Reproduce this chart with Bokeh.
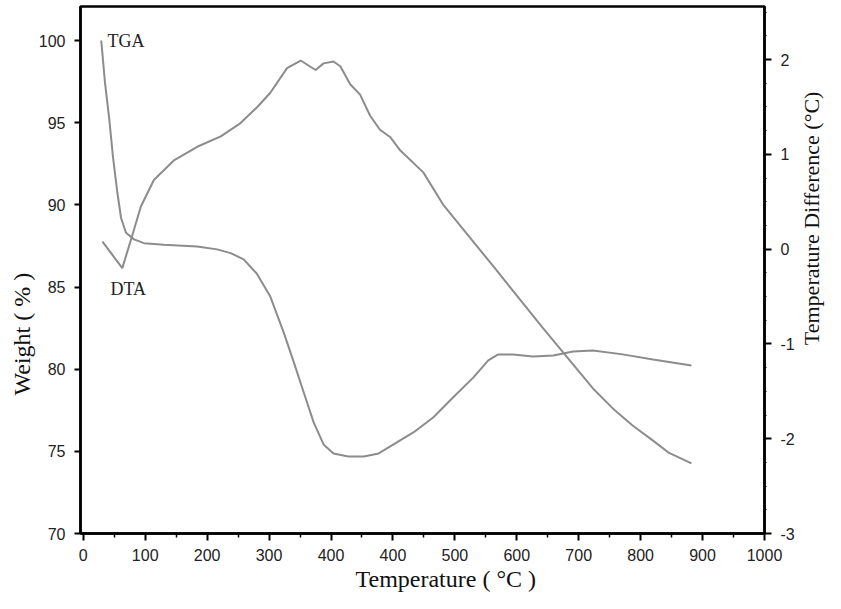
import math
from bokeh.plotting import figure
from bokeh.layouts import row
from bokeh.models import Range1d, LinearAxis, FixedTicker, Label, Title, CustomJSTickFormatter, AllLabels
from bokeh.embed import file_html
from bokeh.resources import INLINE

# x positions are along the printed axis; tick labels as printed (note the repeated "400")
x_tick_pos = [0, 100, 200, 300, 400, 500, 600, 700, 800, 900, 1000, 1100]
x_tick_labels = ["0", "100", "200", "300", "400", "400", "500", "600", "700", "800", "900", "1000"]
weight_ticks = [70, 75, 80, 85, 90, 95, 100]
dta_ticks = [-3, -2, -1, 0, 1, 2]

tga_x = [29, 35, 42, 48, 55, 61, 69, 82, 98, 130, 184, 216, 238, 259, 280, 302, 324, 340, 356, 372,
         388, 404, 428, 453, 477, 501, 533, 565, 597, 630, 654, 670, 694, 726, 759, 791, 823, 871, 920, 982]
tga_w = [100.0, 97.45, 95.2, 92.9, 90.75, 89.2, 88.3, 87.9, 87.67, 87.57, 87.47, 87.29, 87.06, 86.68,
         85.82, 84.42, 82.19, 80.41, 78.58, 76.76, 75.42, 74.87, 74.69, 74.69, 74.87, 75.42, 76.15,
         77.06, 78.28, 79.5, 80.53, 80.9, 80.9, 80.77, 80.83, 81.08, 81.14, 80.9, 80.59, 80.23]

dta_x = [31, 47, 63, 77, 93, 114, 147, 184, 222, 254, 281, 302, 329, 351, 375, 388, 404, 415, 431, 447,
         463, 479, 496, 512, 549, 581, 662, 742, 823, 855, 887, 920, 946, 982]
dta_d = [0.08, -0.06, -0.20, 0.10, 0.45, 0.73, 0.94, 1.08, 1.19, 1.33, 1.50, 1.65, 1.91, 1.99, 1.89,
         1.96, 1.98, 1.93, 1.74, 1.63, 1.41, 1.26, 1.18, 1.04, 0.81, 0.47, -0.18, -0.83, -1.47, -1.68,
         -1.86, -2.02, -2.15, -2.26]

SERIF = "Liberation Serif"
SANS = "Liberation Sans"
LINE = "#8c8c8c"

fig = figure(width=797, height=593, output_backend="svg", toolbar_location=None,
             x_range=Range1d(-4.5, 1100), y_range=Range1d(70, 102.07),
             min_border_left=80, min_border_right=33, min_border_top=6, min_border_bottom=60)
fig.extra_y_ranges = {"dta": Range1d(-3, 2.56)}
fig.xgrid.visible = False
fig.ygrid.visible = False
fig.outline_line_color = "black"
fig.outline_line_width = 2.5
fig.outline_line_alpha = 1.0

fig.line(tga_x, tga_w, line_color=LINE, line_width=2)
fig.line(dta_x, dta_d, line_color=LINE, line_width=2, y_range_name="dta")

xa = fig.xaxis[0]
xa.ticker = FixedTicker(ticks=x_tick_pos, minor_ticks=[50 + 100 * i for i in range(11)])
xa.formatter = CustomJSTickFormatter(args=dict(labels=x_tick_labels),
                                     code="return labels[Math.round(tick / 100)];")
xa.major_label_policy = AllLabels()
ya = fig.yaxis[0]
ya.ticker = FixedTicker(ticks=weight_ticks, minor_ticks=[])
ya.formatter = CustomJSTickFormatter(code="return String(tick);")

ra = LinearAxis(y_range_name="dta",
                ticker=FixedTicker(ticks=dta_ticks, minor_ticks=[-3 + 0.25 * i for i in range(23)]),
                formatter=CustomJSTickFormatter(code="return String(tick);"))
fig.add_layout(ra, "right")

for ax in (xa, ya, ra):
    ax.axis_line_width = 2.5
    ax.axis_line_color = "black"
    ax.major_tick_line_width = 2
    ax.major_tick_line_color = "black"
    ax.minor_tick_line_color = "black"
    ax.minor_tick_line_width = 1.5
    ax.major_tick_in = 0
    ax.minor_tick_in = 0
    ax.major_label_text_font = SANS
    ax.major_label_text_font_size = "16px"
    ax.major_label_text_color = "#222222"

xa.major_tick_out = 7
xa.minor_tick_out = 4
xa.major_label_standoff = 8
ya.major_tick_out = 6
ya.major_label_standoff = 9
ra.major_tick_out = 7
ra.minor_tick_out = 2
ra.minor_tick_line_width = 1
ra.major_label_standoff = 9

# axis titles
fig.add_layout(Title(text="Temperature ( °C )", align="left", offset=275, text_font=SERIF,
                     text_font_size="24px", text_font_style="normal", text_color="#111111",
                     standoff=0), "below")
fig.add_layout(Title(text="Weight ( % )", align="left", offset=138, text_font=SERIF,
                     text_font_size="24px", text_font_style="normal", text_color="#111111",
                     standoff=2), "left")

# curve labels
fig.add_layout(Label(x=39, y=99.95, text="TGA", text_font=SERIF, text_font_size="18px",
                     text_align="left", text_baseline="middle", text_color="#222222"))
fig.add_layout(Label(x=44, y=84.85, text="DTA", text_font=SERIF, text_font_size="18px",
                     text_align="left", text_baseline="middle", text_color="#222222"))

# right-hand title strip (reads bottom-to-top, as in the reference)
strip = figure(width=28, height=593, output_backend="svg", toolbar_location=None,
               x_range=Range1d(0, 1), y_range=Range1d(0, 1), min_border=0,
               x_axis_location=None, y_axis_location=None)
strip.outline_line_color = None
strip.xgrid.visible = False
strip.ygrid.visible = False
strip.add_layout(Label(x=0.5, y=0.598, text="Temperature Difference (°C)", text_font=SERIF,
                       text_font_size="22px", text_align="center", text_baseline="middle",
                       angle=math.pi / 2, text_color="#111111"))

p = row(fig, strip)
open("out.html", "w").write(file_html(p, INLINE))
